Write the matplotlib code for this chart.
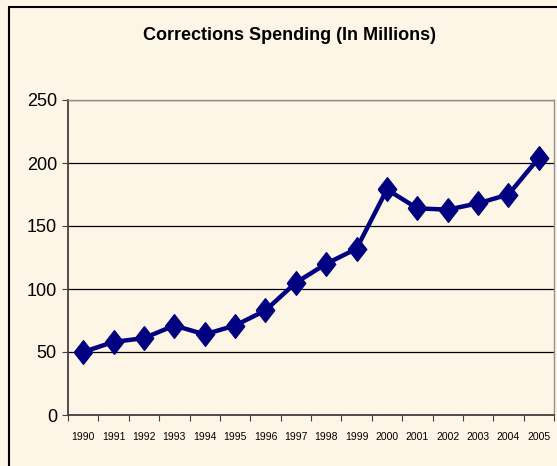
import matplotlib.pyplot as plt
from matplotlib.patches import Rectangle
import numpy as np

plt.rcParams['font.family'] = ['Liberation Sans', 'DejaVu Sans']

years = ['1990', '1991', '1992', '1993', '1994', '1995', '1996', '1997',
         '1998', '1999', '2000', '2001', '2002', '2003', '2004', '2005']
spending = [50, 58, 61, 71, 64, 71, 83, 105, 120, 132, 179, 164, 163, 168, 175, 204]
y_ticks = [0, 50, 100, 150, 200, 250]

bg = '#FDF5E6'
navy = '#000080'

fig = plt.figure(figsize=(5.57, 4.66), dpi=100)
fig.patch.set_facecolor(bg)

# outer chart border (right / bottom run off the image)
fig.add_artist(Rectangle((9 / 557, -0.05), 1.2, 1 - 6.5 / 466 + 0.05,
                         transform=fig.transFigure, fill=False,
                         edgecolor='black', linewidth=1.5))

ax = fig.add_axes([68 / 557, 51 / 466, (554 - 68) / 557, (415 - 100) / 466])
ax.set_facecolor(bg)

x = np.arange(len(years))
diamond = [(-0.78, 0), (0, 1), (0.78, 0), (0, -1), (-0.78, 0)]
ax.plot(x, spending, color=navy, linewidth=3.2, marker=diamond,
        markersize=17, markerfacecolor=navy, markeredgecolor=navy,
        solid_joinstyle='round', zorder=3)

ax.set_xlim(-0.5, len(years) - 0.5)
ax.set_ylim(0, 250)

ax.set_yticks(y_ticks)
ax.set_yticklabels([str(v) for v in y_ticks], fontsize=13)
ax.yaxis.grid(True, color='black', linewidth=0.9)
ax.set_axisbelow(True)

# category axis: tick marks between categories, labels at the centres
ax.set_xticks(np.arange(-0.5, len(years)), minor=False)
ax.set_xticklabels([])
ax.set_xticks(x, minor=True)
ax.set_xticklabels(years, minor=True, fontsize=7.5)
ax.tick_params(axis='x', which='minor', length=0, pad=12)
ax.tick_params(axis='x', which='major', length=4, direction='out', color='#404040')
ax.tick_params(axis='y', length=4, direction='out', pad=4, color='#404040')

for side in ['top', 'right']:
    ax.spines[side].set_color('#909090')
    ax.spines[side].set_linewidth(1.0)
for side in ['left', 'bottom']:
    ax.spines[side].set_color('#404040')
    ax.spines[side].set_linewidth(1.3)

fig.text(0.52, 1 - 35 / 466, 'Corrections Spending (In Millions)',
         ha='center', va='center', fontsize=13, fontweight='bold')

fig.savefig('out.png', dpi=100, facecolor=bg)
